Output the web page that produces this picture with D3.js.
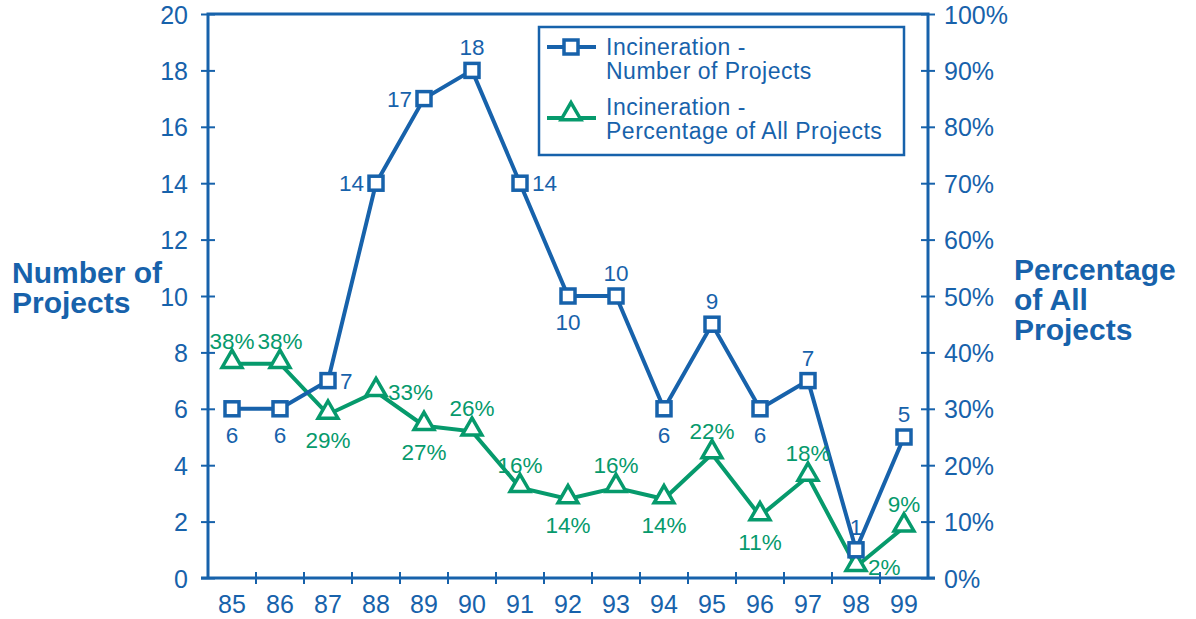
<!DOCTYPE html>
<html>
  <head>
    <meta charset="utf-8">
    <title>Incineration projects</title>
    <script src="https://d3js.org/d3.v7.min.js"></script>
    <style>
      body { margin: 0; background: #fff; }
      svg { font-family: "Liberation Sans", Arial, sans-serif; }
    </style>
  </head>
  <body>
    <svg id="chart" width="1196" height="619"></svg>
    <script>
      // data
      const years = ["85", "86", "87", "88", "89", "90", "91", "92", "93", "94", "95", "96", "97", "98", "99"];
      const projects = [6, 6, 7, 14, 17, 18, 14, 10, 10, 6, 9, 6, 7, 1, 5];
      const percents = [38, 38, 29, 33, 27, 26, 16, 14, 16, 14, 22, 11, 18, 2, 9];
      const leftTicks = [0, 2, 4, 6, 8, 10, 12, 14, 16, 18, 20];
      const rightTicks = [0, 10, 20, 30, 40, 50, 60, 70, 80, 90, 100];
      // label placement per point
      const projectPos = ["below", "below", "right", "left", "left", "above", "right", "below", "above", "below", "above", "below", "above", "above", "above"];
      const percentPos = ["above", "above", "below", "right", "below", "above", "above", "below", "above", "below", "above", "below", "above", "right", "above"];

      const blue = "#1762ab";
      const green = "#069a6c";

      const svg = d3.select("#chart");
      const plotL = 208, plotR = 928, plotT = 14, plotB = 578;

      const x = d3.scaleBand().domain(years).range([plotL, plotR]);
      const y = d3.scaleLinear().domain([0, 20]).range([plotB, plotT]);
      const yPct = d3.scaleLinear().domain([0, 100]).range([plotB, plotT]);
      const cx = d => x(d) + x.bandwidth() / 2;

      // frame: left, right, top
      svg.append("path")
        .attr("d", "M" + plotL + "," + plotB + "V" + plotT + "H" + plotR + "V" + plotB)
        .attr("fill", "none").attr("stroke", blue).attr("stroke-width", 3);

      // left axis
      const yAxis = svg.append("g").attr("transform", "translate(" + plotL + ",0)")
        .call(d3.axisLeft(y).tickValues(leftTicks).tickSize(7).tickPadding(13));
      yAxis.select(".domain").remove();
      yAxis.selectAll("line").attr("x2", 7).attr("x1", -7).attr("stroke", blue).attr("stroke-width", 2);
      yAxis.selectAll("text").attr("fill", blue).style("font-size", "25px").attr("dy", "0.36em");

      // right axis
      const rAxis = svg.append("g").attr("transform", "translate(" + plotR + ",0)")
        .call(d3.axisRight(yPct).tickValues(rightTicks).tickFormat(d => d + "%").tickSize(7).tickPadding(9));
      rAxis.select(".domain").remove();
      rAxis.selectAll("line").attr("x1", -7).attr("x2", 7).attr("stroke", blue).attr("stroke-width", 2);
      rAxis.selectAll("text").attr("fill", blue).style("font-size", "25px").attr("dy", "0.36em");

      // bottom axis: ticks at band boundaries
      svg.append("line").attr("x1", plotL - 7).attr("x2", plotR + 7)
        .attr("y1", plotB).attr("y2", plotB).attr("stroke", blue).attr("stroke-width", 3);
      svg.selectAll(".xtick").data(years.slice(1)).enter().append("line")
        .attr("x1", d => x(d)).attr("x2", d => x(d))
        .attr("y1", plotB - 6).attr("y2", plotB + 6)
        .attr("stroke", blue).attr("stroke-width", 2);
      svg.selectAll(".xlabel").data(years).enter().append("text")
        .attr("x", cx).attr("y", plotB + 35)
        .attr("text-anchor", "middle").attr("fill", blue)
        .style("font-size", "25px").text(d => d);

      // axis titles
      svg.append("text").attr("fill", blue).style("font-size", "30px").style("font-weight", "bold")
        .selectAll("tspan").data(["Number of", "Projects"]).enter().append("tspan")
        .attr("x", 12).attr("y", (d, i) => 283 + i * 30).text(d => d);
      svg.append("text").attr("fill", blue).style("font-size", "30px").style("font-weight", "bold")
        .selectAll("tspan").data(["Percentage", "of All", "Projects"]).enter().append("tspan")
        .attr("x", 1014).attr("y", (d, i) => 280 + i * 30).text(d => d);

      // lines
      const pctLine = d3.line().x((d, i) => cx(years[i])).y(d => yPct(d));
      const numLine = d3.line().x((d, i) => cx(years[i])).y(d => y(d));

      svg.append("path").attr("d", pctLine(percents))
        .attr("fill", "none").attr("stroke", green).attr("stroke-width", 4);
      svg.append("path").attr("d", numLine(projects))
        .attr("fill", "none").attr("stroke", blue).attr("stroke-width", 4);

      const tri = d3.symbol().type(d3.symbolTriangle).size(170);

      function triangle(g, px, py) {
        g.append("path").attr("d", tri()).attr("transform", "translate(" + px + "," + (py - 2) + ")")
          .attr("fill", "#fff").attr("stroke", green).attr("stroke-width", 3.5);
      }
      function square(g, px, py) {
        g.append("rect").attr("x", px - 7).attr("y", py - 7).attr("width", 14).attr("height", 14)
          .attr("fill", "#fff").attr("stroke", blue).attr("stroke-width", 3.5);
      }

      const marks = svg.append("g");
      percents.forEach((d, i) => triangle(marks, cx(years[i]), yPct(d)));
      projects.forEach((d, i) => square(marks, cx(years[i]), y(d)));

      function place(pos, px, py) {
        if (pos === "above") return { x: px, y: py - 15, a: "middle" };
        if (pos === "below") return { x: px, y: py + 34, a: "middle" };
        if (pos === "left") return { x: px - 12, y: py + 8, a: "end" };
        return { x: px + 12, y: py + 8, a: "start" };
      }

      const labels = svg.append("g").style("font-size", "22.5px");
      projects.forEach((d, i) => {
        const p = place(projectPos[i], cx(years[i]), y(d));
        labels.append("text").attr("x", p.x).attr("y", p.y).attr("text-anchor", p.a)
          .attr("fill", blue).text(d);
      });
      percents.forEach((d, i) => {
        const p = place(percentPos[i], cx(years[i]), yPct(d));
        labels.append("text").attr("x", p.x).attr("y", p.y).attr("text-anchor", p.a)
          .attr("fill", green).text(d + "%");
      });

      // legend
      const legend = svg.append("g");
      legend.append("rect").attr("x", 539).attr("y", 27).attr("width", 365).attr("height", 128)
        .attr("fill", "#fff").attr("stroke", blue).attr("stroke-width", 2.5);
      legend.append("line").attr("x1", 547).attr("x2", 596).attr("y1", 47).attr("y2", 47)
        .attr("stroke", blue).attr("stroke-width", 4);
      square(legend, 571, 47);
      legend.append("line").attr("x1", 547).attr("x2", 596).attr("y1", 118).attr("y2", 118)
        .attr("stroke", green).attr("stroke-width", 4);
      triangle(legend, 571, 116);
      const legendText = [["Incineration -", "Number of Projects"], ["Incineration -", "Percentage of All Projects"]];
      legendText.forEach((lines, k) => {
        lines.forEach((line, i) => {
          legend.append("text").attr("fill", blue).style("font-size", "23px")
            .style("letter-spacing", "0.5px")
            .attr("x", 606).attr("y", 55 + k * 60 + i * 24).text(line);
        });
      });
    </script>
  </body>
</html>
